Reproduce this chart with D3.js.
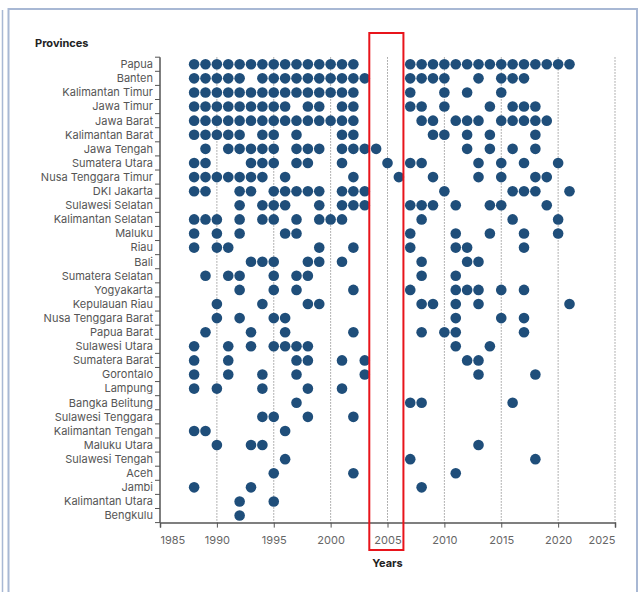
<!DOCTYPE html>
<html><head><meta charset="utf-8">
<script src="https://cdn.jsdelivr.net/npm/d3@7"></script>
<style>body{margin:0;background:#fff}svg{display:block}</style>
</head><body>
<svg id="c" width="642" height="592"></svg>
<script>
const provinces = ["Papua","Banten","Kalimantan Timur","Jawa Timur","Jawa Barat","Kalimantan Barat","Jawa Tengah","Sumatera Utara","Nusa Tenggara Timur","DKI Jakarta","Sulawesi Selatan","Kalimantan Selatan","Maluku","Riau","Bali","Sumatera Selatan","Yogyakarta","Kepulauan Riau","Nusa Tenggara Barat","Papua Barat","Sulawesi Utara","Sumatera Barat","Gorontalo","Lampung","Bangka Belitung","Sulawesi Tenggara","Kalimantan Tengah","Maluku Utara","Sulawesi Tengah","Aceh","Jambi","Kalimantan Utara","Bengkulu"];
const years = [
 [1988,1989,1990,1991,1992,1993,1994,1995,1996,1997,1998,1999,2000,2001,2002,2007,2008,2009,2010,2011,2012,2013,2014,2015,2016,2017,2018,2019,2020,2021],
 [1988,1989,1990,1991,1992,1994,1995,1996,1997,1998,1999,2000,2001,2002,2003,2007,2008,2009,2010,2013,2015,2016,2017],
 [1988,1989,1990,1991,1992,1993,1994,1995,1996,1997,1998,1999,2000,2001,2002,2007,2010,2012,2015],
 [1988,1989,1990,1991,1992,1993,1994,1995,1996,1998,1999,2001,2002,2007,2008,2010,2014,2016,2017,2018],
 [1988,1989,1990,1991,1992,1993,1994,1995,1996,1997,1998,1999,2000,2001,2002,2008,2009,2011,2012,2013,2015,2016,2017,2018,2019],
 [1988,1989,1990,1991,1992,1994,1995,1997,2001,2002,2009,2010,2012,2014,2018],
 [1989,1991,1992,1993,1994,1995,1997,1998,1999,2001,2002,2003,2004,2012,2014,2016,2018],
 [1988,1989,1993,1994,1995,1997,1998,2001,2005,2007,2008,2013,2015,2017,2020],
 [1988,1989,1990,1991,1992,1993,1994,1996,2002,2006,2009,2013,2015,2018,2019],
 [1988,1989,1992,1993,1995,1996,1997,1998,1999,2001,2002,2003,2010,2016,2017,2018,2021],
 [1992,1994,1995,1996,1999,2001,2002,2003,2007,2008,2009,2011,2014,2015,2019],
 [1988,1989,1990,1992,1994,1995,1997,1999,2000,2001,2008,2016,2020],
 [1988,1990,1992,1996,1997,2007,2011,2014,2017,2020],
 [1988,1990,1991,1999,2002,2007,2011,2012,2017],
 [1993,1994,1995,1998,1999,2001,2008,2012,2013],
 [1989,1991,1992,1995,1997,1998,2008,2011],
 [1992,1995,1997,2002,2007,2011,2012,2013,2015,2017],
 [1990,1994,1998,1999,2008,2009,2011,2013,2021],
 [1990,1992,1995,1996,2011,2015,2017],
 [1989,1993,1996,2002,2008,2010,2011,2017],
 [1988,1991,1993,1995,1996,1997,1998,2011,2014],
 [1988,1991,1997,1998,2001,2003,2012,2013],
 [1988,1991,1994,1997,2003,2013,2018],
 [1988,1990,1994,1998,2001],
 [1997,2007,2008,2016],
 [1994,1995,1998,2002],
 [1988,1989,1996],
 [1990,1993,1994,2013],
 [1996,2007,2018],
 [1995,2002,2011],
 [1988,1993,2008],
 [1992,1995],
 [1992]
];
const tickYears = [1985,1990,1995,2000,2005,2010,2015,2020,2025];
const highlightRange = [2003.4, 2006.4];

const svg = d3.select("#c");
const font = "Inter, 'Noto Sans', sans-serif";

// frame
svg.append("line").attr("x1",2.5).attr("x2",2.5).attr("y1",10).attr("y2",592).attr("stroke","#a8b8d4").attr("stroke-width",1.5);
svg.append("rect").attr("x",8.5).attr("y",9).attr("width",628.5).attr("height",590).attr("fill","none").attr("stroke","#a8b8d4").attr("stroke-width",2);

const x = d3.scaleLinear().domain([1985,2025]).range([160,615]);
const y = d3.scaleBand().domain(provinces).range([57.2,522.6]);

// grid
svg.append("g").selectAll("line").data(tickYears.slice(1)).join("line")
  .attr("x1",d=>x(d)).attr("x2",d=>x(d)).attr("y1",y.range()[0]).attr("y2",y.range()[1])
  .attr("stroke","#9a9a9a").attr("stroke-width",1).attr("stroke-dasharray","1.5,1.5");

// dots
const pts = [];
provinces.forEach((p,i)=>years[i].forEach(yr=>pts.push({p,yr})));
svg.append("g").selectAll("circle").data(pts).join("circle")
  .attr("cx",d=>x(d.yr)).attr("cy",d=>y(d.p)+y.bandwidth()/2).attr("r",5.3)
  .attr("fill","#1f4e7a");

// x axis
const xg = svg.append("g").attr("transform",`translate(0,${y.range()[1]})`)
  .call(d3.axisBottom(x).tickValues(tickYears).tickFormat(d3.format("d")).tickSize(5).tickPadding(9));
xg.select(".domain").attr("stroke","#555").attr("stroke-width",1.5);
xg.selectAll(".tick line").attr("stroke","#555");
xg.selectAll("text").attr("font-family",font).attr("font-size",11).attr("fill","#666");
xg.selectAll(".tick text").filter(d=>d===tickYears[0]).attr("text-anchor","start");
xg.selectAll(".tick text").filter(d=>d===tickYears[tickYears.length-1]).attr("text-anchor","end");

// y axis with band-edge ticks
const yg = svg.append("g");
yg.append("line").attr("x1",160).attr("x2",160).attr("y1",y.range()[0]).attr("y2",y.range()[1]).attr("stroke","#555").attr("stroke-width",1.5);
const edges = provinces.map(p=>y(p)).concat([y.range()[1]]);
yg.selectAll("line.t").data(edges).join("line").attr("class","t")
  .attr("x1",155).attr("x2",160).attr("y1",d=>d).attr("y2",d=>d).attr("stroke","#555");
yg.selectAll("text").data(provinces).join("text")
  .attr("x",153).attr("y",d=>y(d)+y.bandwidth()/2).attr("dy","0.35em")
  .attr("text-anchor","end").attr("font-family",font).attr("font-size",11).attr("fill","#555").text(d=>d);

// titles
svg.append("text").attr("x",35).attr("y",47).attr("font-family",font).attr("font-size",11).attr("font-weight","bold").attr("fill","#222").text("Provinces");
svg.append("text").attr("x",(x.range()[0]+x.range()[1])/2).attr("y",567).attr("text-anchor","middle").attr("font-family",font).attr("font-size",11).attr("font-weight","bold").attr("fill","#222").text("Years");

// highlight
svg.append("rect").attr("x",x(highlightRange[0])).attr("y",33).attr("width",x(highlightRange[1])-x(highlightRange[0])).attr("height",517)
  .attr("fill","none").attr("stroke","#e8141b").attr("stroke-width",2);
</script>
</body></html>
